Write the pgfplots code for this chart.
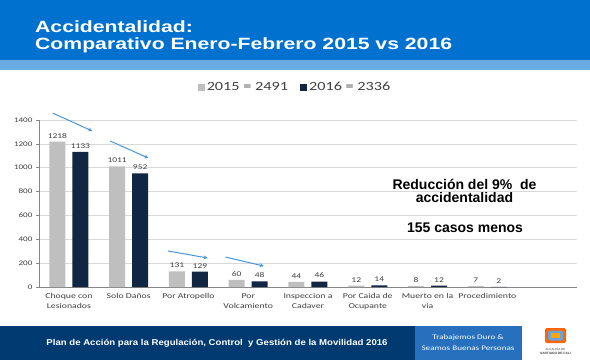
\documentclass[border=0pt]{standalone}
\usepackage{fontspec}
\usepackage{pgfplots}
\pgfplotsset{compat=1.18}
\usetikzlibrary{arrows.meta}
\setmainfont[FakeStretch=1.3]{Carlito}
\newfontfamily\arial{Liberation Sans}
\newfontfamily\titlefont[FakeStretch=1.3]{Liberation Sans}
\newfontfamily\footfont[FakeStretch=1.13]{Liberation Sans}
\definecolor{headblue}{RGB}{0,113,206}
\definecolor{stripeblue}{RGB}{105,172,228}
\definecolor{footnavy}{RGB}{0,58,112}
\definecolor{footblue}{RGB}{38,112,190}
\definecolor{bargray}{RGB}{191,191,191}
\definecolor{barnavy}{RGB}{17,38,66}
\definecolor{gridgray}{RGB}{217,217,217}
\definecolor{axisgray}{RGB}{134,134,134}
\definecolor{textgray}{RGB}{64,64,64}
\definecolor{arrowblue}{RGB}{74,150,220}
\begin{document}
\begin{tikzpicture}[x=1pt,y=1pt]
\path[use as bounding box] (0,0) rectangle (590,360);
\fill[white] (0,0) rectangle (590,360);
% header
\fill[headblue] (0,300) rectangle (590,360);
\fill[stripeblue] (0,290) rectangle (590,300);
\node[anchor=base west, inner sep=0, text=white, font=\titlefont\bfseries\fontsize{16.3}{18}\selectfont] at (35,328) {Accidentalidad:};
\node[anchor=base west, inner sep=0, text=white, font=\titlefont\bfseries\fontsize{16.3}{18}\selectfont] at (35,311) {Comparativo Enero-Febrero 2015 vs 2016};
% footer
\fill[footnavy] (0,0) rectangle (415,34);
\fill[footblue] (415,0) rectangle (522,34);
\node[text=white, font=\footfont\bfseries\fontsize{8.5}{10}\selectfont] at (217,17) {Plan de Acción para la Regulación, Control\ \ y Gestión de la Movilidad 2016};
\node[text=white, font=\fontsize{7}{8}\selectfont] at (468,22) {Trabajemos Duro \&};
\node[text=white, font=\fontsize{7}{8}\selectfont] at (468,12) {Seamos Buenas Personas};
% logo
\fill[rounded corners=2pt, orange!80!red] (545,17) rectangle (566,32);
\fill[rounded corners=1.5pt, cyan!60!blue!60] (548,19.5) rectangle (563,29.5);
\fill[orange!70!yellow] (551,22) rectangle (560,27);
\node[text=textgray, font=\arial\fontsize{3}{3.5}\selectfont] at (555.5,11) {ALCALDÍA DE};
\node[text=textgray, font=\arial\bfseries\fontsize{3.2}{3.5}\selectfont] at (555.5,7) {SANTIAGO DE CALI};
% annotations
\node[text=black, font=\arial\bfseries\fontsize{14}{16}\selectfont] at (464.5,176) {Reducción del 9\%\ \ de};
\node[text=black, font=\arial\bfseries\fontsize{14}{16}\selectfont] at (464.5,162.5) {accidentalidad};
\node[text=black, font=\arial\bfseries\fontsize{14}{16}\selectfont] at (465,132) {155 casos menos};
\begin{axis}[
  at={(39pt,73pt)}, anchor=south west,
  scale only axis, width=538pt, height=167pt,
  ybar, bar width=16pt, ybar=7pt,
  ymin=0, ymax=1400, ytick={0,200,...,1400},
  xmin=-0.5, xmax=8.5, enlarge x limits=false,
  xtick={0,...,7},
  xticklabels={{Choque con\\Lesionados},{Solo Daños},{Por Atropello},{Por\\Volcamiento},{Inspeccion a\\Cadaver},{Por Caida de\\Ocupante},{Muerto en la\\via},{Procedimiento}},
  x tick label style={align=center, font=\fontsize{7.5}{10}\selectfont, text=textgray},
  y tick label style={font=\fontsize{7}{9}\selectfont, text=textgray},
  /pgf/number format/assume math mode=true,
  /pgf/number format/1000 sep={},
  axis x line*=bottom, axis y line*=left,
  axis line style={draw=axisgray, line width=0.6pt},
  tick align=outside,
  x tick style={draw=none},
  y tick style={draw=axisgray, line width=0.6pt},
  major tick length=3pt,
  extra x ticks={0.5,1.5,...,8.5},
  extra x tick labels={},
  extra x tick style={grid=none, tick style={draw=axisgray, line width=0.6pt}, major tick length=3pt},
  ymajorgrids, grid style={draw=gridgray, line width=0.6pt},
  nodes near coords,
  every node near coord/.append style={font=\fontsize{7.3}{9}\selectfont, text=textgray},
  legend style={draw=none, at={(0.476,1.195)}, anchor=center, legend columns=2,
    font=\fontsize{12.5}{14}\selectfont, text=textgray,
    /tikz/every even column/.append style={column sep=10pt}},
  legend image code/.code={\fill[#1] (0pt,-3.5pt) rectangle (7pt,3.5pt);},
  clip=false,
]
\addplot[fill=bargray, draw=none] coordinates {(0,1218) (1,1011) (2,131) (3,60) (4,44) (5,12) (6,8) (7,7)};
\addplot[fill=barnavy, draw=none] coordinates {(0,1133) (1,952) (2,129) (3,48) (4,46) (5,14) (6,12) (7,2)};
\legend{2015 = 2491, 2016 = 2336}
\draw[-{Stealth[length=4pt,width=4pt]}, arrowblue, line width=1pt] (axis cs:-0.27,1458) -- (axis cs:0.39,1308);
\draw[-{Stealth[length=4pt,width=4pt]}, arrowblue, line width=1pt] (axis cs:0.69,1224) -- (axis cs:1.33,1081);
\draw[-{Stealth[length=4pt,width=4pt]}, arrowblue, line width=1pt] (axis cs:1.66,302) -- (axis cs:2.32,243);
\draw[-{Stealth[length=4pt,width=4pt]}, arrowblue, line width=1pt] (axis cs:2.62,251) -- (axis cs:3.26,176);
\end{axis}
\end{tikzpicture}
\end{document}
